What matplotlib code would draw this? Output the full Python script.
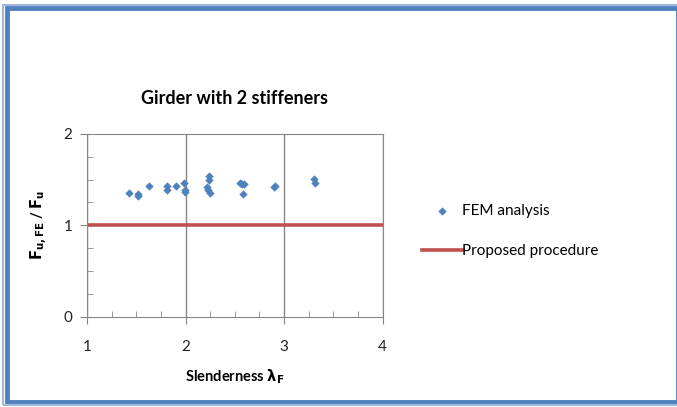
import matplotlib
matplotlib.use("Agg")
import matplotlib.pyplot as plt
from matplotlib.patches import Rectangle
from matplotlib.ticker import MultipleLocator

plt.rcParams['font.family'] = ['Lato', 'DejaVu Sans']

# FEM results
slenderness = [1.43, 1.52, 1.52, 1.63, 1.81, 1.81, 1.90, 1.98, 1.99, 1.99,
               2.24, 2.24, 2.22, 2.23, 2.25, 2.55, 2.57, 2.59, 2.58,
               2.90, 2.91, 3.30, 3.31]
ratio = [1.35, 1.34, 1.32, 1.43, 1.43, 1.39, 1.43, 1.46, 1.39, 1.36,
         1.54, 1.50, 1.42, 1.39, 1.35, 1.46, 1.45, 1.45, 1.34,
         1.42, 1.43, 1.51, 1.46]

proc_x = [1, 4]
proc_y = [1, 1]

fig = plt.figure(figsize=(6.77, 4.07), dpi=100)
ax = fig.add_axes([0.1285, 0.222, 0.4368, 0.449])

ax.plot(proc_x, proc_y, color='#C0504D', lw=2.6, label='Proposed procedure', zorder=2)
ax.scatter(slenderness, ratio, marker='D', s=18, color='#4F81BD',
           label='FEM analysis', zorder=3, linewidths=0)

ax.set_xlim(1, 4)
ax.set_ylim(0, 2)
ax.xaxis.set_major_locator(MultipleLocator(1))
ax.xaxis.set_minor_locator(MultipleLocator(0.25))
ax.yaxis.set_major_locator(MultipleLocator(1))
ax.yaxis.set_minor_locator(MultipleLocator(0.25))
ax.grid(axis='x', which='major', color='#868686', lw=1)
ax.tick_params(which='major', direction='out', length=5, color='#868686',
               labelsize=11, labelcolor='#222222')
ax.tick_params(axis='x', which='major', pad=11.5)
ax.tick_params(axis='y', which='major', pad=5.5)
ax.tick_params(which='minor', direction='in', length=4, color='#868686')
for s in ax.spines.values():
    s.set_color('#868686')

ax.set_title('Girder with 2 stiffeners', fontsize=13, fontweight='bold', pad=21.5)
ax.set_xlabel(r'Slenderness $\mathbf{\lambda_F}$', fontsize=10.5, fontweight='bold', labelpad=10)
ax.set_ylabel(r'$\mathbf{F_{u,FE}}$ / $\mathbf{F_u}$', fontsize=10.5, fontweight='bold', labelpad=10)

h, l = ax.get_legend_handles_labels()
fig.legend(h[::-1], l[::-1], loc='center left', bbox_to_anchor=(0.603, 0.432),
           frameon=False, fontsize=11, handlelength=2.6, labelspacing=1.7,
           handletextpad=0.05)

# outer frame
fig.patches.append(Rectangle((0.011, 0.012), 0.99, 0.968, transform=fig.transFigure,
                             fill=False, edgecolor='#4F81BD', lw=3.5))
fig.patches.append(Rectangle((0.004, 0.004), 1.0, 0.983, transform=fig.transFigure,
                             fill=False, edgecolor='#9DB9DD', lw=1.5))

fig.savefig('out.png', dpi=100)
